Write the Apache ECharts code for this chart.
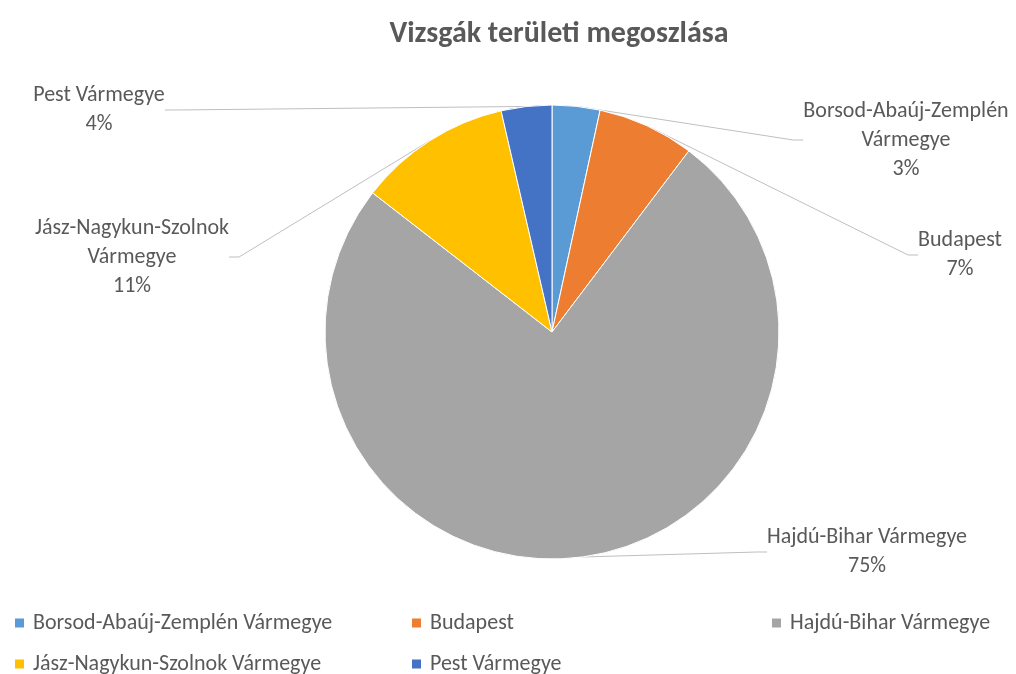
<!DOCTYPE html>
<html>
<head>
<meta charset="utf-8">
<script src="https://cdn.jsdelivr.net/npm/echarts@6/dist/echarts.min.js"></script>
<style>html,body{margin:0;padding:0;background:#fff}#c{width:1016px;height:674px}</style>
</head>
<body>
<div id="c"></div>
<script>
const title = 'Vizsgák területi megoszlása';
const categories = ['Borsod-Abaúj-Zemplén Vármegye', 'Budapest', 'Hajdú-Bihar Vármegye', 'Jász-Nagykun-Szolnok Vármegye', 'Pest Vármegye'];
const labelTexts = ['Borsod-Abaúj-Zemplén\nVármegye', 'Budapest', 'Hajdú-Bihar Vármegye', 'Jász-Nagykun-Szolnok\nVármegye', 'Pest Vármegye'];
const values = [3.4, 6.9, 75.2, 10.9, 3.6];
const colors = ['#5B9BD5', '#ED7D31', '#A5A5A5', '#FFC000', '#4472C4'];

// layout only: label block centres and legend item positions
const labelPos = [[906, 140], [960, 255], [867, 552], [132, 257], [99, 110]];
const legendPos = [[13, 611], [410, 611], [770, 611], [13, 652], [410, 652]];

const font = "Calibri, Carlito, 'Open Sans', 'Noto Sans', sans-serif";
const legendStyle = {color: '#595959', fontSize: 22, lineHeight: 24, fontFamily: font, padding: [0, 0, 0, 3]};
const chart = echarts.init(document.getElementById('c'), null, {renderer: 'canvas'});
chart.setOption({
  animation: false,
  color: colors,
  title: {
    text: title, left: 554, top: 14, textAlign: 'center',
    textStyle: {fontSize: 30, fontWeight: 'bold', color: '#595959', fontFamily: font}
  },
  legend: categories.map((c, i) => ({
    orient: 'horizontal', left: legendPos[i][0], top: legendPos[i][1], padding: 0,
    itemWidth: 11, itemHeight: 11, icon: 'rect', data: [c], textStyle: legendStyle
  })),
  series: [{
    type: 'pie',
    center: [552, 332],
    radius: 227,
    startAngle: 90,
    clockwise: true,
    percentPrecision: 0,
    itemStyle: {borderColor: '#fff', borderWidth: 1},
    label: {
      show: true,
      position: 'outside',
      color: '#595959',
      fontSize: 22,
      lineHeight: 29,
      fontFamily: font,
      align: 'center',
      formatter: p => labelTexts[p.dataIndex] + '\n' + p.percent + '%'
    },
    labelLine: {show: true, length: 10, length2: 10, lineStyle: {color: '#BFBFBF', width: 1}},
    labelLayout: p => ({
      x: labelPos[p.dataIndex][0],
      y: labelPos[p.dataIndex][1],
      align: 'center',
      verticalAlign: 'middle'
    }),
    emphasis: {disabled: true},
    data: categories.map((c, i) => ({name: c, value: values[i]}))
  }]
});
</script>
</body>
</html>
